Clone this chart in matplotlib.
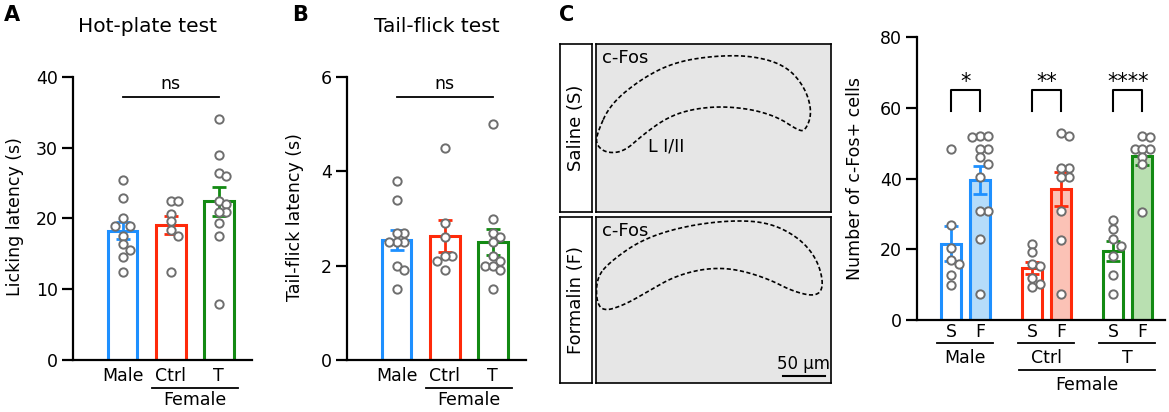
import numpy as np
import matplotlib
matplotlib.use("Agg")
import matplotlib.pyplot as plt

FIG_W, FIG_H = 1169, 412

# ---- data ----
groups_ab = ["Male", "Ctrl", "T"]
colors = ["#1e90ff", "#ff2a0a", "#138a13"]
light = ["#b5dcfa", "#fbc2b6", "#b9e0b1"]

hot_male = [25.5, 22.9, 20.0, 19.0, 19.0, 17.5, 16.4, 15.5, 14.5, 12.5]
hot_ctrl = [22.5, 22.5, 20.7, 19.6, 18.4, 17.5, 12.5]
hot_t = [34.0, 29.0, 26.5, 26.0, 22.5, 22.1, 20.9, 20.9, 19.4, 17.5, 7.9]

tail_male = [3.8, 3.4, 2.7, 2.7, 2.5, 2.5, 2.5, 2.0, 1.9, 1.5]
tail_ctrl = [4.5, 2.9, 2.6, 2.2, 2.2, 2.1, 1.9]
tail_t = [5.0, 3.0, 2.7, 2.6, 2.5, 2.2, 2.1, 2.0, 2.0, 1.9, 1.5]

fos_male_s = [48.4, 26.8, 20.3, 16.9, 15.9, 12.7, 9.9]
fos_male_f = [52.1, 52.1, 51.8, 48.4, 48.4, 46.2, 44.2, 40.3, 30.8, 30.8, 22.8, 7.4]
fos_ctrl_s = [21.5, 19.3, 15.8, 15.4, 11.8, 10.1, 9.2]
fos_ctrl_f = [52.8, 52.1, 43.1, 43.1, 40.3, 40.3, 30.8, 22.6, 7.4]
fos_t_s = [28.3, 25.8, 22.8, 20.8, 18.2, 12.7, 7.4]
fos_t_f = [52.1, 51.8, 48.4, 48.4, 48.4, 46.2, 44.1, 30.6]
fos_groups = ["Male", "Ctrl", "T"]
fos_stars = ["*", "**", "****"]

plt.rcParams["font.family"] = "DejaVu Sans"
plt.rcParams["font.size"] = 12.5

fig = plt.figure(figsize=(FIG_W / 100, FIG_H / 100), dpi=100)


def px_axes(left, top, right, bottom):
    return fig.add_axes([left / FIG_W, 1 - bottom / FIG_H,
                         (right - left) / FIG_W, (bottom - top) / FIG_H])


def fig_text(x, y, s, **kw):
    fig.text(x / FIG_W, 1 - y / FIG_H, s, **kw)


def swarm(values, px_x, px_y, diam=7.6):
    # simple beeswarm: offsets in x data units
    order = np.argsort(values)[::-1]
    placed = []
    offs = np.zeros(len(values))
    step = diam / 2
    for i in order:
        y = values[i] * px_y
        for k in [0, 2, -2, 1, -1, 3, -3, 4, -4, 5, -5]:
            x = k * step
            if all((x - px) ** 2 + (y - py) ** 2 >= diam ** 2 * 0.95 for px, py in placed):
                break
        placed.append((x, y))
        offs[i] = x / px_x
    return offs


def chaikin(points, n=4):
    # corner cutting on a closed outline
    pts = np.asarray(points, dtype=float)
    for _ in range(n):
        nxt = np.roll(pts, -1, axis=0)
        q = 0.75 * pts + 0.25 * nxt
        r = 0.25 * pts + 0.75 * nxt
        pts = np.empty((2 * len(q), 2))
        pts[0::2] = q
        pts[1::2] = r
    return np.vstack([pts, pts[:1]])


def style_axes(ax, ymax, yticks):
    for s in ["top", "right"]:
        ax.spines[s].set_visible(False)
    for s in ["left", "bottom"]:
        ax.spines[s].set_linewidth(1.6)
    ax.set_ylim(0, ymax)
    ax.set_yticks(yticks)
    ax.tick_params(axis="y", length=8, width=1.6, pad=3)
    ax.set_xticks([])


def draw_bar(ax, x, vals, color, face, width, px_x, px_y):
    vals = np.asarray(vals)
    m = vals.mean()
    sem = vals.std(ddof=1) / np.sqrt(len(vals))
    ax.bar(x, m, width=width, facecolor=face, edgecolor=color, linewidth=2.2, zorder=2)
    ax.errorbar(x, m, yerr=sem, color=color, capsize=5, elinewidth=2, capthick=2, zorder=3)
    offs = swarm(vals, px_x, px_y)
    ax.plot(x + offs, vals, "o", ms=6, mfc="white", mec="#6e6e6e", mew=1.4,
            zorder=4, clip_on=False)


def panel_ab(left, title_x, label_x, ylab_x, label, title, ylabel, ymax, yticks, data):
    ax = px_axes(left, 77, left + 179, 360)
    style_axes(ax, ymax, yticks)
    ax.set_xlim(-1.03, 2.69)
    px_x, px_y = 48, 283 / ymax
    for i, vals in enumerate(data):
        draw_bar(ax, i, vals, colors[i], "white", 0.62, px_x, px_y)
    tr = ax.get_xaxis_transform()
    for i, g in enumerate(groups_ab):
        ax.text(i, -0.057, g, transform=tr, ha="center", va="center")
    ax.plot([0.62, 2.4], [-0.099, -0.099], color="black", lw=1.3, transform=tr, clip_on=False)
    ax.text(1.51, -0.141, "Female", transform=tr, ha="center", va="center")
    ns_y = ymax * 0.93
    ax.plot([0, 2], [ns_y, ns_y], color="black", lw=1.3, clip_on=False)
    ax.text(1, ns_y + ymax * 0.015, "ns", ha="center", va="bottom")
    fig_text(title_x, 27, title, ha="center", va="center", fontsize=14.5)
    fig_text(label_x, 15, label, ha="center", va="center", fontsize=15, fontweight="bold")
    fig_text(ylab_x, 217, ylabel, ha="center", va="center", rotation=90)
    return ax


panel_ab(73, 148, 12, 15, "A", "Hot-plate test", "Licking latency (s)", 40,
         [0, 10, 20, 30, 40], [hot_male, hot_ctrl, hot_t])
panel_ab(347, 437, 300, 295, "B", "Tail-flick test", "Tail-flick latency (s)", 6,
         [0, 2, 4, 6], [tail_male, tail_ctrl, tail_t])

# ---- panel C: micrograph placeholders ----
fig_text(567, 15, "C", ha="center", va="center", fontsize=15, fontweight="bold")

saline_outline = [(0.005, 0.47), (0.06, 0.64), (0.19, 0.79), (0.33, 0.89), (0.50, 0.93),
                  (0.67, 0.93), (0.81, 0.87), (0.89, 0.74), (0.92, 0.59), (0.89, 0.48),
                  (0.855, 0.49), (0.78, 0.56), (0.67, 0.61), (0.53, 0.63), (0.40, 0.61),
                  (0.30, 0.56), (0.20, 0.46), (0.12, 0.36), (0.045, 0.35), (0.0, 0.40)]
formalin_outline = [(0.005, 0.64), (0.06, 0.73), (0.19, 0.86), (0.36, 0.94), (0.56, 0.98),
                    (0.73, 0.97), (0.86, 0.88), (0.94, 0.75), (0.97, 0.59), (0.94, 0.52),
                    (0.84, 0.55), (0.73, 0.63), (0.585, 0.69), (0.46, 0.69), (0.33, 0.64),
                    (0.22, 0.55), (0.12, 0.47), (0.03, 0.43), (0.0, 0.50)]

for top, bottom, name, outline in [(44, 212, "Saline (S)", saline_outline),
                                   (217, 383, "Formalin (F)", formalin_outline)]:
    lab = px_axes(560, top, 592, bottom)
    lab.set_xticks([])
    lab.set_yticks([])
    for s in lab.spines.values():
        s.set_linewidth(1.2)
    lab.text(0.5, 0.5, name, rotation=90, ha="center", va="center", fontsize=13,
             transform=lab.transAxes)
    img = px_axes(596, top, 831, bottom)
    img.set_facecolor("#e6e6e6")
    img.set_xticks([])
    img.set_yticks([])
    img.set_xlim(0, 1)
    img.set_ylim(0, 1)
    for s in img.spines.values():
        s.set_linewidth(1.2)
    smooth = chaikin(outline)
    img.plot(smooth[:, 0], smooth[:, 1], color="black", lw=1.2, ls=(0, (2.5, 1.5)))
    img.text(0.025, 0.97, "c-Fos", ha="left", va="top", fontsize=13)
    if name.startswith("Saline"):
        img.text(0.22, 0.39, "L I/II", ha="left", va="center", fontsize=12.5)
    else:
        img.plot([0.795, 0.976], [0.04, 0.04], color="black", lw=1.5)
        img.text(0.882, 0.06, "50 µm", ha="center", va="bottom", fontsize=12)

# ---- panel C: bar chart ----
ax = px_axes(917, 37, 1165, 320)
style_axes(ax, 80, [0, 20, 40, 60, 80])
ax.set_xlim(-1.17, 7.38)
px_x, px_y = 29, 283 / 80
fos_pairs = [(fos_male_s, fos_male_f), (fos_ctrl_s, fos_ctrl_f), (fos_t_s, fos_t_f)]
tr = ax.get_xaxis_transform()
for i, (sal, form) in enumerate(fos_pairs):
    xs = i * 2.8
    xf = xs + 1
    draw_bar(ax, xs, sal, colors[i], "white", 0.69, px_x, px_y)
    draw_bar(ax, xf, form, colors[i], light[i], 0.69, px_x, px_y)
    ax.plot([xs, xs, xf, xf], [59, 65, 65, 59], color="black", lw=1.5, clip_on=False)
    ax.text((xs + xf) / 2, 64.5, fos_stars[i], ha="center", va="bottom", fontsize=15)
    ax.text(xs, -0.042, "S", transform=tr, ha="center", va="center")
    ax.text(xf, -0.042, "F", transform=tr, ha="center", va="center")
    ax.plot([xs - 0.48, xf + 0.45], [-0.081, -0.081], color="black", lw=1.3,
            transform=tr, clip_on=False)
    ax.text((xs + xf) / 2, -0.134, fos_groups[i], transform=tr, ha="center", va="center")
ax.plot([2.8 - 0.46, 6.6 + 0.45], [-0.177, -0.177], color="black", lw=1.3,
        transform=tr, clip_on=False)
ax.text((2.8 - 0.46 + 6.6 + 0.45) / 2, -0.23, "Female", transform=tr, ha="center", va="center")
fig_text(855, 178, "Number of c-Fos+ cells", ha="center", va="center", rotation=90)

fig.savefig("out.png", dpi=100)
